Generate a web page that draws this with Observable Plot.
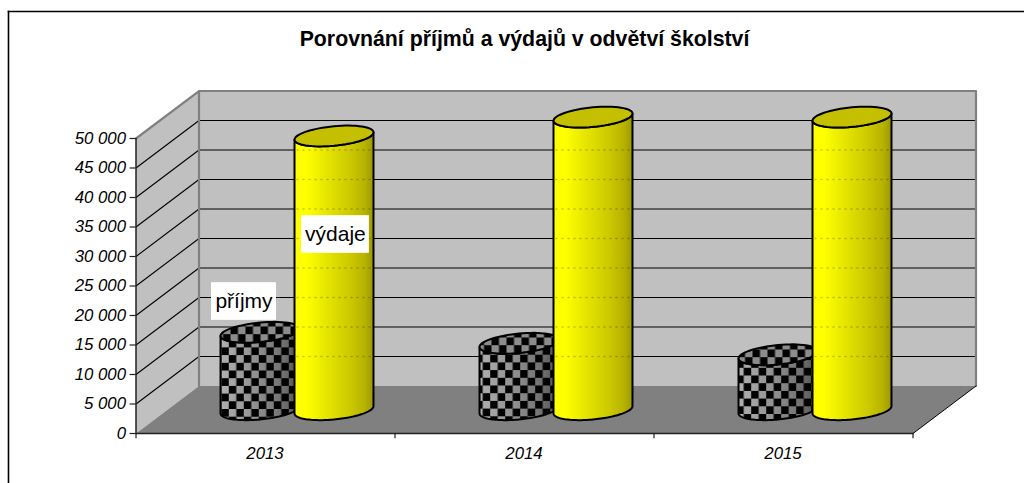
<!DOCTYPE html>
<html><head><meta charset="utf-8">
<style>html,body{margin:0;padding:0;background:#fff}svg{display:block;font-family:"Liberation Sans",Arial,sans-serif}</style>
<script src="https://cdn.jsdelivr.net/npm/d3@7"></script>
<script src="https://cdn.jsdelivr.net/npm/@observablehq/plot@0.6"></script>
</head><body><script>
const chartTitle = "Porovnání příjmů a výdajů v odvětví školství";
const years = ["2013", "2014", "2015"];
const prijmy = [13135, 11270, 9320];
const vydaje = [46400, 49600, 49600];
const yTicks = [0,5000,10000,15000,20000,25000,30000,35000,40000,45000,50000];
const seriesLabels = [
  {text:"příjmy", cat:0.417, val:22370, w:0.1255, h:3190},
  {text:"výdaje", cat:0.770, val:33730, w:0.131, h:3190}
];
const tickFmt = v => String(v).replace(/\B(?=(\d{3})+$)/g, " ");

// oblique projection: a point (c, v, d) with depth d in 0..1
const DX = 63/259, DV = 8050;
const P = (c, v, d) => ({x: c + d*DX, y: v + d*DV});
const rx = 1/7, rd = 0.219, tau = Math.atan2(rd*DX, rx);
const ring = (cx, v, t) => ({x: cx + 0.5*DX + rx*Math.cos(t) + rd*DX*Math.sin(t), y: v + 0.5*DV + rd*DV*Math.sin(t)});
const N = 64;
const arc = (cx, v, from, to) => d3.range(N+1).map(i => ring(cx, v, tau + from + (to-from)*i/N));
const poly = (pts, o) => Plot.line(pts, {x:"x", y:"y", curve:"linear-closed", ...o});
const bodyPts = (cx, v) => [...arc(cx, 0, -Math.PI, 0), ...arc(cx, v, 0, -Math.PI)];
const capPts = (cx, v) => arc(cx, v, 0, 2*Math.PI).slice(0, N);

const defs = () => {
  const ns = "http://www.w3.org/2000/svg";
  const g = document.createElementNS(ns, "defs");
  const phases = [[243.3,370,245,326],[504.7,385,506,337],[765.7,375,767,349]];
  const tile = (id, px, py, bg) => `<pattern id="${id}" width="15" height="15.4" patternUnits="userSpaceOnUse" patternTransform="translate(${px},${py})">`
    + (bg ? `<rect width="15" height="15.4" fill="${bg}"/>` : "")
    + `<rect width="7.5" height="7.7" fill="#000"/><rect x="7.5" y="7.7" width="7.5" height="7.7" fill="#000"/></pattern>`;
  g.innerHTML = `<linearGradient id="yel"><stop offset="0" stop-color="#ffff00"/><stop offset=".15" stop-color="#ffff00"/><stop offset=".4" stop-color="#e6e600"/><stop offset=".7" stop-color="#cdc900"/><stop offset=".88" stop-color="#b8b400"/><stop offset="1" stop-color="#9c9800"/></linearGradient>
  <linearGradient id="gry"><stop offset="0" stop-color="#b0b0b0"/><stop offset=".45" stop-color="#909090"/><stop offset=".8" stop-color="#707070"/><stop offset="1" stop-color="#505050"/></linearGradient>`
   + phases.map((p,i) => tile("chk"+i, p[0], p[1]) + tile("top"+i, p[2], p[3], "#8c8c8c")).join("");
  return g;
};

const grid = yTicks.filter(v => v > 0 && v < 50000);
const marks = [
  defs,
  Plot.frame({anchor:"top", stroke:"#000", strokeWidth:1.6}),
  Plot.frame({anchor:"left", stroke:"#000", strokeWidth:1.6}),
  // walls and floor
  poly([P(0,0,1),P(3,0,1),P(3,50000,1),P(0,50000,1)], {fill:"#c0c0c0"}),
  poly([P(0,0,0),P(0,0,1),P(0,50000,1),P(0,50000,0)], {fill:"#c0c0c0"}),
  poly([P(0,0,0),P(3,0,0),P(3,0,1),P(0,0,1)], {fill:"#808080"}),
  // gridlines
  ...grid.map(v => Plot.line([P(0,v,0),P(0,v,1),P(3,v,1)], {x:"x", y:"y", stroke:"#000", strokeWidth:1.1})),
  // wall borders
  Plot.line([P(0,50000,0),P(0,50000,1),P(3,50000,1),P(3,0,1)], {x:"x", y:"y", stroke:"#808080", strokeWidth:2.2}),
  Plot.line([P(0,50000,1),P(0,0,1)], {x:"x", y:"y", stroke:"#808080", strokeWidth:2.2}),
  Plot.line([P(3,0,0),P(3,0,1)], {x:"x", y:"y", stroke:"#000", strokeWidth:1}),
  // axes
  Plot.line([P(0,0,0),P(0,50000,0)], {x:"x", y:"y", stroke:"#222", strokeWidth:1.5}),
  Plot.line([P(0,0,0),P(3,0,0)], {x:"x", y:"y", stroke:"#222", strokeWidth:1.6}),
  Plot.ruleY(yTicks, {y:d=>d, x1:-0.023, x2:0, stroke:"#222", strokeWidth:1.2}),
  Plot.text(yTicks, {x:0, y:d=>d, text:tickFmt, textAnchor:"end", dx:-10, fontSize:16.8, fontStyle:"italic", fill:"#000"}),
  Plot.ruleX([0,1,2,3], {x:d=>d, y1:-900, y2:0, stroke:"#222", strokeWidth:1.2}),
  Plot.text(years, {x:(d,i)=>i+.5, y:0, text:d=>d, dx:-0.5, dy:20, fontSize:16.8, fontStyle:"italic", fill:"#000"}),
  // cylinders
  ...years.flatMap((_, i) => {
    const a = i + .5 - 1/7, b = i + .5 + 1/7;
    const dotted = (c, top) => grid.filter(v => v + DV < top + .5*DV - 1500).map(v =>
      Plot.line([P(c - rx + 0.5*DX - DX, v, 1), P(c + rx + 0.5*DX - DX, v, 1)], {x:"x", y:"y", stroke:"#000", strokeOpacity:.22, strokeDasharray:"1 5"}));
    return [
      poly(bodyPts(a, prijmy[i]), {fill:"url(#gry)"}),
      poly(bodyPts(a, prijmy[i]), {fill:`url(#chk${i})`, stroke:"#000", strokeWidth:2}),
      poly(capPts(a, prijmy[i]), {fill:`url(#top${i})`, stroke:"#000", strokeWidth:2}),
      poly(bodyPts(b, vydaje[i]), {fill:"url(#yel)", stroke:"#000", strokeWidth:2}),
      poly(capPts(b, vydaje[i]), {fill:"#c4c000", stroke:"#000", strokeWidth:2}),
      ...dotted(b, vydaje[i])
    ];
  }),
  // series labels
  Plot.rect(seriesLabels, {x1:d=>d.cat-d.w, x2:d=>d.cat+d.w, y1:d=>d.val-d.h, y2:d=>d.val+d.h, fill:"#fff"}),
  Plot.text(seriesLabels, {x:"cat", y:"val", text:"text", fontSize:21, fill:"#000"}),
  // title
  Plot.text([chartTitle], {x:1.5, y:66800, text:d=>d, fontSize:21.3, fontWeight:"bold", fill:"#000"})
];
const chart = Plot.plot({
  width:1024, height:483, marginLeft:8, marginTop:11, marginRight:0, marginBottom:0,
  x:{type:"linear", domain:[0,3], range:[135.5,912.5], axis:null},
  y:{type:"linear", domain:[0,50000], range:[433,138], axis:null},
  style:{fontFamily:'"Liberation Sans",Arial,sans-serif', background:"#fff"},
  marks
});
document.body.appendChild(chart);
</script></body></html>
